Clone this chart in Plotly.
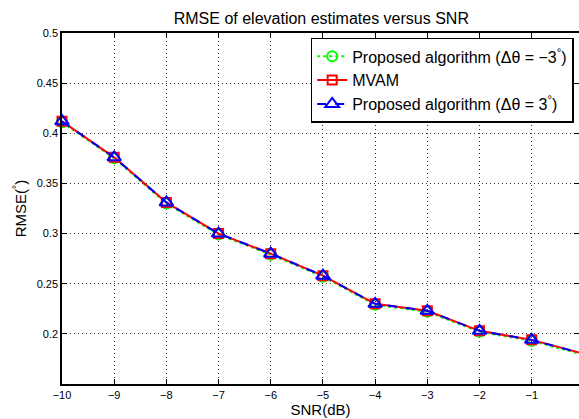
import plotly.graph_objects as go

snr = [-10, -9, -8, -7, -6, -5, -4, -3, -2, -1, 0]
rmse_neg3 = [0.411, 0.375, 0.330, 0.299, 0.279, 0.257, 0.229, 0.222, 0.202, 0.193, 0.179]
rmse_mvam = [0.412, 0.376, 0.331, 0.300, 0.280, 0.258, 0.230, 0.223, 0.203, 0.194, 0.180]
rmse_pos3 = [0.412, 0.376, 0.331, 0.300, 0.280, 0.258, 0.230, 0.223, 0.203, 0.194, 0.180]

x_ticks = [-10, -9, -8, -7, -6, -5, -4, -3, -2, -1]
y_ticks = [0.2, 0.25, 0.3, 0.35, 0.4, 0.45, 0.5]
y_labels = ["0.2", "0.25", "0.3", "0.35", "0.4", "0.45", "0.5"]

fig = go.Figure()
fig.add_trace(go.Scatter(
    x=snr, y=rmse_neg3, mode="lines+markers",
    name="Proposed algorithm (\u0394\u03b8 = \u22123<sup>\u00b0</sup>)",
    line=dict(color="#00ff00", width=2, dash="dot"),
    marker=dict(symbol="circle-open", size=10, color="#00ff00", line=dict(width=2)),
    cliponaxis=False,
))
fig.add_trace(go.Scatter(
    x=snr, y=rmse_mvam, mode="lines+markers", name="MVAM",
    line=dict(color="#ff0000", width=2),
    marker=dict(symbol="square-open", size=9, color="#ff0000", line=dict(width=2)),
    cliponaxis=False,
))
fig.add_trace(go.Scatter(
    x=snr, y=rmse_pos3, mode="lines+markers",
    name="Proposed algorithm (\u0394\u03b8 = 3<sup>\u00b0</sup>)",
    line=dict(color="#0000ff", width=2, dash="dash"),
    marker=dict(symbol="triangle-up-open", size=12, color="#0000ff", line=dict(width=2)),
    cliponaxis=False,
))

fig.update_layout(
    width=579, height=419,
    margin=dict(l=62, r=0, t=33, b=35, autoexpand=False),
    paper_bgcolor="white", plot_bgcolor="white",
    font=dict(family="Liberation Sans, Arial, sans-serif", color="black"),
    title=dict(text="RMSE of elevation estimates versus SNR", x=0.555, xanchor="center",
               y=0.957, yanchor="middle", font=dict(size=16)),
    showlegend=True,
    legend=dict(x=0.481, y=0.986, xanchor="left", yanchor="top",
                bgcolor="white", bordercolor="black", borderwidth=1.5,
                font=dict(size=16), tracegroupgap=0),
    xaxis=dict(range=[-10, -0.094], tickvals=x_ticks, ticks="inside", ticklen=5,
               tickcolor="black", showline=True, linecolor="black", linewidth=1.5,
               mirror="ticks", showgrid=True, gridcolor="#333", griddash="1px,3px", gridwidth=1,
               zeroline=False, tickfont=dict(size=11),
               title=dict(text="SNR(dB)", font=dict(size=15), standoff=1)),
    yaxis=dict(range=[0.15, 0.5], tickvals=y_ticks, ticktext=y_labels, ticks="inside",
               ticklen=5, tickcolor="black", showline=True, linecolor="black", linewidth=1.5,
               mirror="ticks", showgrid=True, gridcolor="#333", griddash="1px,3px", gridwidth=1,
               zeroline=False, tickfont=dict(size=11),
               title=dict(text="RMSE(<sup>\u00b0</sup>)", font=dict(size=15), standoff=6)),
)

fig.write_html("out.html", config={"displayModeBar": False},
               post_script="document.body.style.margin='0px';")
